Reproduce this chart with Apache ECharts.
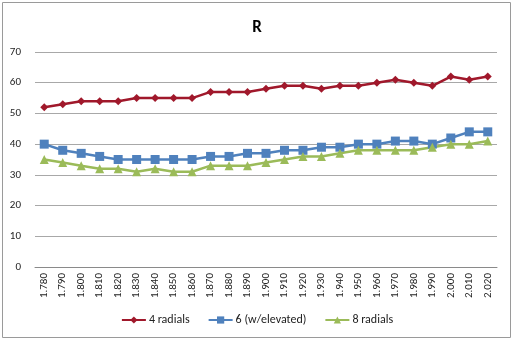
<!DOCTYPE html>
<html><head><meta charset="utf-8">
<script src="https://cdn.jsdelivr.net/npm/echarts@6/dist/echarts.min.js"></script>
<style>html,body{margin:0;padding:0;background:#fff}#c{width:514px;height:341px}</style>
</head><body><div id="c"></div>
<script>
const categories = ['1.780','1.790','1.800','1.810','1.820','1.830','1.840','1.850','1.860','1.870','1.880','1.890','1.900','1.910','1.920','1.930','1.940','1.950','1.960','1.970','1.980','1.990','2.000','2.010','2.020'];
const radials4 = [52,53,54,54,54,55,55,55,55,57,57,57,58,59,59,58,59,59,60,61,60,59,62,61,62];
const radials6 = [40,38,37,36,35,35,35,35,35,36,36,37,37,38,38,39,39,40,40,41,41,40,42,44,44];
const radials8 = [35,34,33,32,32,31,32,31,31,33,33,33,34,35,36,36,37,38,38,38,38,39,40,40,41];
const seriesNames = ['4 radials','6 (w/elevated)','8 radials'];
const yTicks = [0,10,20,30,40,50,60,70];

const chart = echarts.init(document.getElementById('c'));
const font = 'Carlito, Calibri, "Liberation Sans", Arial, sans-serif';
chart.setOption({
  animation: false,
  graphic: [{type:'rect', shape:{x:2.5,y:2.5,width:508,height:335}, style:{fill:'none', stroke:'#9a9a9a', lineWidth:1}}],
  title: {text:'R', left:'center', top:14, textStyle:{fontSize:17, fontWeight:'bold', color:'#000', fontFamily:font}},
  legend: {bottom:10, left:'center', itemWidth:24, itemHeight:9, itemGap:18,
    textStyle:{fontSize:12, color:'#222', fontFamily:font, padding:[0,0,0,-2]}, data: seriesNames},
  grid: {left:35, right:17, top:52, bottom:74, containLabel:false},
  xAxis: {type:'category', data:categories, boundaryGap:true,
    axisLine:{lineStyle:{color:'#8a8a8a'}}, axisTick:{show:false},
    axisLabel:{rotate:90, interval:0, fontSize:11, color:'#222', margin:6, fontFamily:font}},
  yAxis: {type:'value', min:yTicks[0], max:yTicks[yTicks.length-1], interval:10,
    axisLine:{show:false}, axisTick:{show:false},
    axisLabel:{fontSize:11, color:'#222', margin:14, fontFamily:font},
    splitLine:{lineStyle:{color:'#a8a8a8'}}},
  series: [
    {name:seriesNames[0], type:'line', data:radials4, symbol:'diamond', symbolSize:8,
      lineStyle:{color:'#A0182B', width:2.5}, itemStyle:{color:'#A0182B'}},
    {name:seriesNames[1], type:'line', data:radials6, symbol:'rect', symbolSize:9,
      lineStyle:{color:'#4F81BD', width:2.5}, itemStyle:{color:'#4F81BD'}},
    {name:seriesNames[2], type:'line', data:radials8, symbol:'triangle', symbolSize:9,
      lineStyle:{color:'#9BBB59', width:2.5}, itemStyle:{color:'#9BBB59'}}
  ]
});
</script></body></html>
